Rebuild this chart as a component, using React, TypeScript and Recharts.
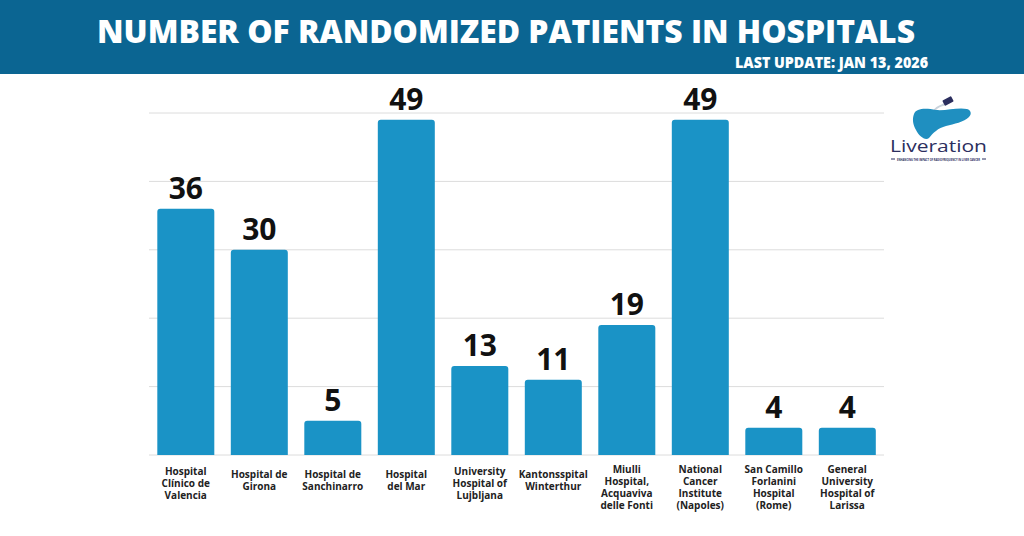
import { BarChart, Bar, XAxis, YAxis, CartesianGrid, LabelList } from 'recharts'

const hospitals = [
  'Hospital Clínico de Valencia',
  'Hospital de Girona',
  'Hospital de Sanchinarro',
  'Hospital del Mar',
  'University Hospital of Lujbljana',
  'Kantonsspital Winterthur',
  'Miulli Hospital, Acquaviva delle Fonti',
  'National Cancer Institute (Napoles)',
  'San Camillo Forlanini Hospital (Rome)',
  'General University Hospital of Larissa',
]

const hospitalLabelLines = [
  ['Hospital', 'Clínico de', 'Valencia'],
  ['Hospital de', 'Girona'],
  ['Hospital de', 'Sanchinarro'],
  ['Hospital', 'del Mar'],
  ['University', 'Hospital of', 'Lujbljana'],
  ['Kantonsspital', 'Winterthur'],
  ['Miulli', 'Hospital,', 'Acquaviva', 'delle Fonti'],
  ['National', 'Cancer', 'Institute', '(Napoles)'],
  ['San Camillo', 'Forlanini', 'Hospital', '(Rome)'],
  ['General', 'University', 'Hospital of', 'Larissa'],
]

const patients = [36, 30, 5, 49, 13, 11, 19, 49, 4, 4]
const yTicks = [0, 10, 20, 30, 40, 50]

const chartData = hospitals.map((name, i) => ({ name, patients: patients[i] }))

const FONT = '"Open Sans", sans-serif'

function HospitalTick({ x, y, payload }: any) {
  const lines = hospitalLabelLines[payload.index] || [payload.value]
  // taller labels start a little higher
  const first = 21.5 - 2.5 * lines.length
  return (
    <text x={x} y={y} textAnchor="middle" fontFamily={FONT} fontSize={10} fontWeight={700} fill="#222">
      {lines.map((line, i) => (
        <tspan key={i} x={x} y={y + first + i * 12}>
          {line}
        </tspan>
      ))}
    </text>
  )
}

function Logo() {
  return (
    <g>
      {/* catheter + device */}
      <path d="M934 111 C937 106 941 106 945 104" stroke="#c9d3dc" strokeWidth={2} fill="none" />
      <rect x={943} y={98} width={10} height={6} rx={1} fill="#2b2e5e" transform="rotate(-28 948 101)" />
      {/* liver */}
      <path
        d="M914 114 C916 108 926 108 936 110 C946 111 958 107 967 109 C971 110 972 114 969 117 C964 122 954 124 946 126 C938 128 933 133 929 138 C925 141 919 136 916 130 C913 125 912 119 914 114 Z"
        fill="#1f8fc0"
      />
      <text x={890} y={152} fontFamily={FONT} fontSize={17} fontWeight={500} fill="#2b2e5e" textLength={97} lengthAdjust="spacingAndGlyphs">
        Liveration
      </text>
      <line x1={891} y1={159} x2={895} y2={159} stroke="#2b2e5e" strokeWidth={1} />
      <line x1={982} y1={159} x2={986} y2={159} stroke="#2b2e5e" strokeWidth={1} />
      <text x={897} y={160.5} fontFamily={FONT} fontSize={4} fontWeight={700} fill="#2b2e5e" textLength={83} lengthAdjust="spacingAndGlyphs">
        ENHANCING THE IMPACT OF RADIOFREQUENCY IN LIVER CANCER
      </text>
    </g>
  )
}

export default function App() {
  return (
    <div style={{ position: 'fixed', left: 0, top: 0, width: 1024, height: 536, background: '#fff', fontFamily: FONT }}>
      <BarChart
        width={1024}
        height={536}
        data={chartData}
        margin={{ top: 113, right: 140, bottom: 0, left: 149 }}
        barCategoryGap="11.3%"
      >
        <CartesianGrid vertical={false} stroke="#dcdcdc" strokeWidth={1} />
        <YAxis hide domain={[0, 50]} ticks={yTicks} />
        <XAxis
          dataKey="name"
          height={81}
          axisLine={false}
          tickLine={false}
          tickMargin={0}
          interval={0}
          tick={<HospitalTick />}
        />
        <Bar dataKey="patients" fill="#1a93c6" radius={[3, 3, 0, 0]} isAnimationActive={false}>
          <LabelList dataKey="patients" position="top" offset={10} fontFamily={FONT} fontSize={30} fontWeight={700} fill="#111" />
        </Bar>
      </BarChart>
      <svg width={1024} height={536} style={{ position: 'absolute', left: 0, top: 0, pointerEvents: 'none' }}>
        <rect x={0} y={0} width={1024} height={74} fill="#0b6592" />
        <text x={97} y={43} fontFamily={FONT} fontSize={32} fontWeight={800} fill="#fff" textLength={818} lengthAdjust="spacingAndGlyphs">
          NUMBER OF RANDOMIZED PATIENTS IN HOSPITALS
        </text>
        <text x={735} y={68} fontFamily={FONT} fontSize={15} fontWeight={800} fill="#fff" textLength={193} lengthAdjust="spacingAndGlyphs">
          LAST UPDATE: JAN 13, 2026
        </text>
        <Logo />
      </svg>
    </div>
  )
}
